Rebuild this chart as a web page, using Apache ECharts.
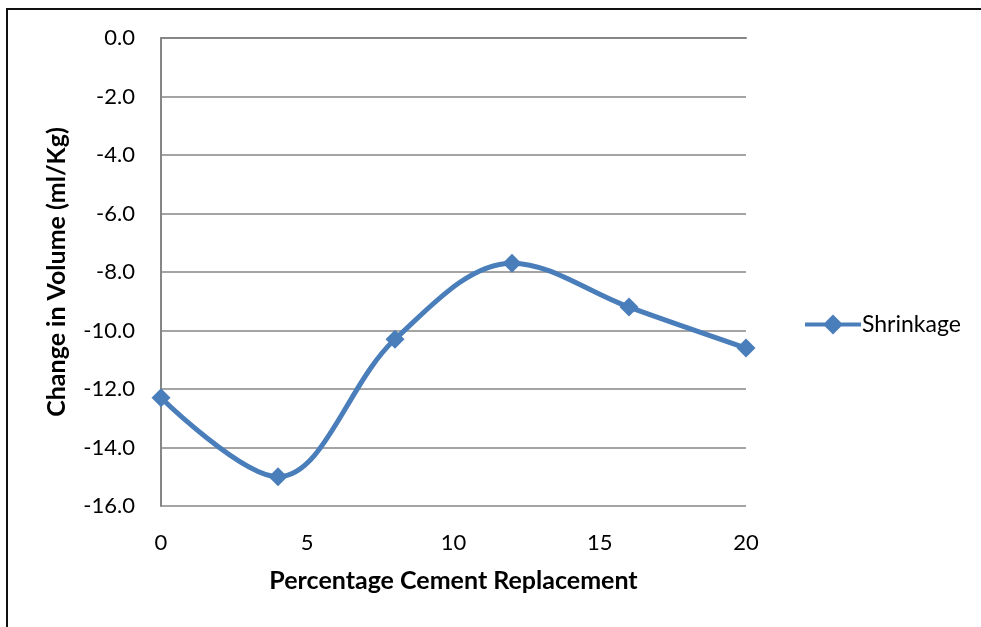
<!DOCTYPE html>
<html>
<head>
<meta charset="utf-8">
<script src="https://cdn.jsdelivr.net/npm/echarts@6/dist/echarts.min.js"></script>
<style>
  html, body { margin: 0; padding: 0; background: #fff; }
  #frame { position: absolute; left: 6px; top: 8px; width: 990px; height: 640px;
           border-left: 2px solid #111; border-top: 2px solid #111; box-sizing: border-box; }
  #chart { position: absolute; left: 0; top: 0; width: 981px; height: 627px; }
</style>
</head>
<body>
<div id="frame"></div>
<div id="chart"></div>
<script>
// percentage cement replacement vs change in volume
const replacement = [0, 4, 8, 12, 16, 20]
const shrinkage = [-12.3, -15.0, -10.3, -7.7, -9.2, -10.6]

const chart = echarts.init(document.getElementById('chart'))
const font = 'Lato, "Open Sans", sans-serif'
const blue = '#4a7ebb'

chart.setOption({
  animation: false,
  grid: { left: 161, top: 38, right: 235, bottom: 121 },
  legend: {
    left: 800, top: 308,
    itemWidth: 56, itemHeight: 20, itemGap: 0,
    textStyle: { fontFamily: font, fontSize: 23, color: '#000', padding: [0, 0, 0, -4] },
    data: [{ name: 'Shrinkage', icon: 'path://M0,8 L20,8 L28,0 L36,8 L56,8 L56,12 L36,12 L28,20 L20,12 L0,12 Z' }]
  },
  xAxis: {
    type: 'value', min: 0, max: 20, interval: 5,
    name: 'Percentage Cement Replacement',
    nameLocation: 'middle', nameGap: 62,
    nameTextStyle: { fontFamily: font, fontSize: 25, fontWeight: 'bold', color: '#000' },
    axisLine: { lineStyle: { color: '#868686', width: 2 } },
    axisTick: { show: false },
    splitLine: { show: false },
    axisLabel: { fontFamily: font, fontSize: 22, color: '#000', margin: 26 }
  },
  yAxis: {
    type: 'value', min: -16, max: 0, interval: 2,
    name: 'Change in Volume (ml/Kg)',
    nameLocation: 'middle', nameGap: 92,
    nameTextStyle: { fontFamily: font, fontSize: 25, fontWeight: 'bold', color: '#000' },
    axisLine: { show: true, lineStyle: { color: '#868686', width: 2 } },
    axisTick: { show: false },
    splitLine: { lineStyle: { color: '#868686', width: 1.5 } },
    axisLabel: { fontFamily: font, fontSize: 22, color: '#000', margin: 26,
      formatter: v => v.toFixed(1) }
  },
  series: [{
    name: 'Shrinkage',
    type: 'line',
    smooth: 0.35,
    data: replacement.map((x, i) => [x, shrinkage[i]]),
    symbol: 'diamond',
    symbolSize: 19,
    itemStyle: { color: blue },
    lineStyle: { color: blue, width: 5 }
  }]
})
</script>
</body>
</html>
